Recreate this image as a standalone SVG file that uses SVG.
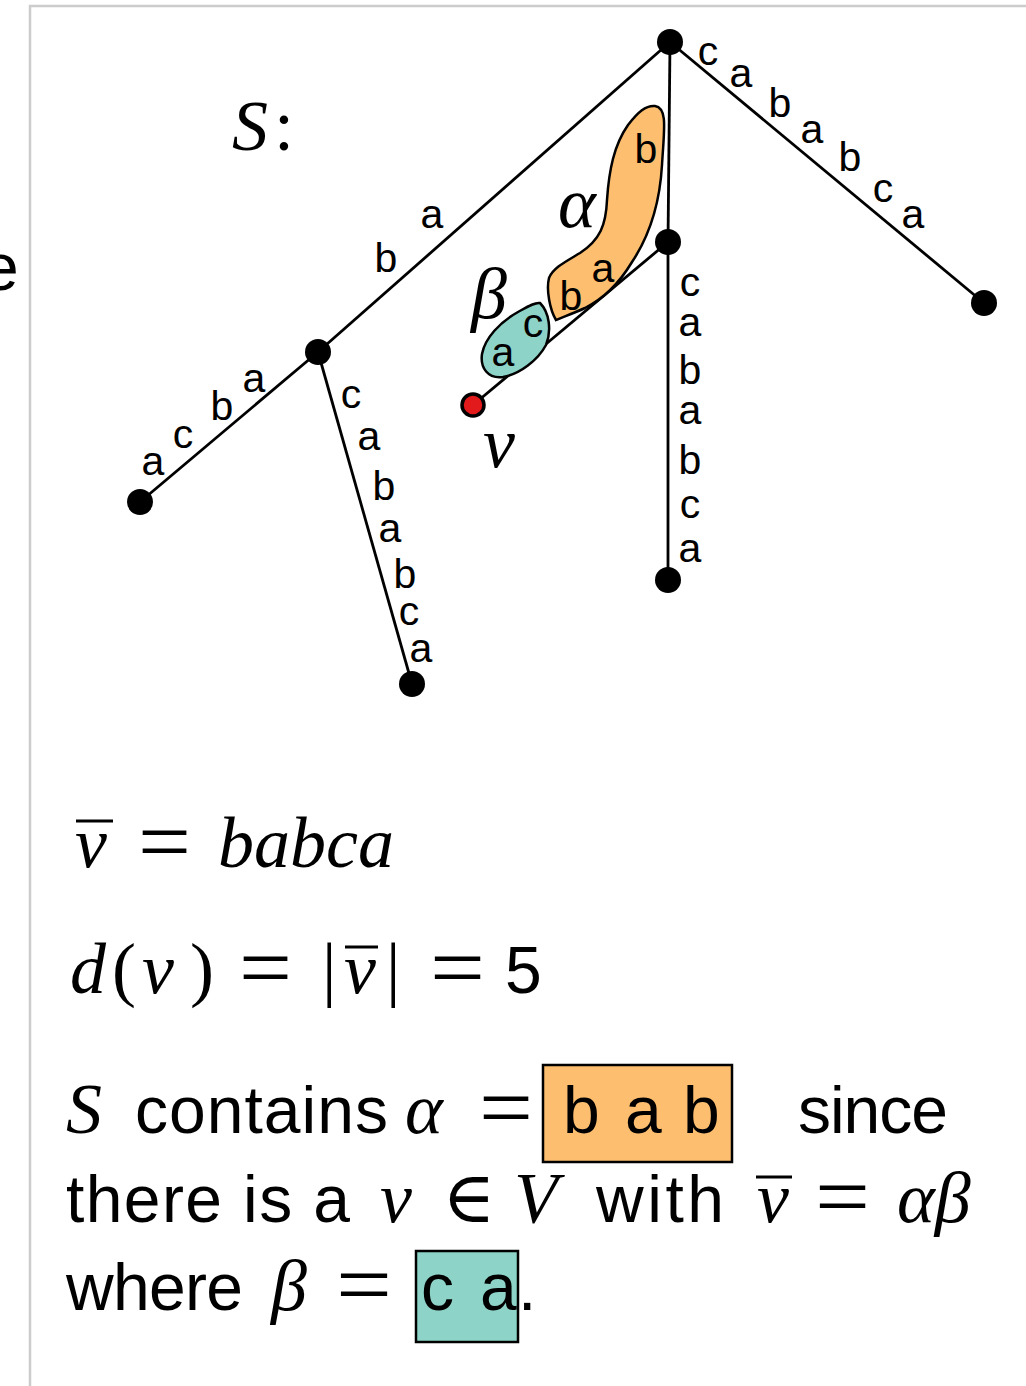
<svg xmlns="http://www.w3.org/2000/svg" width="1026" height="1386" viewBox="0 0 1026 1386">
<style>
.frame{fill:none;stroke:#cccccc;stroke-width:2.5}
.edge{stroke:#000;stroke-width:2.8;fill:none}
.node{fill:#000}
.lbl{font-family:"Liberation Sans",Arial,sans-serif;font-size:41px;fill:#000;text-anchor:middle}
.mi{font-family:"Liberation Serif","DejaVu Serif",serif;font-style:italic;font-size:72px;fill:#000}
.mo{font-family:"Liberation Serif","DejaVu Serif",serif;font-size:72px;fill:#000}
.eq{font-family:"Liberation Serif","DejaVu Serif",serif;font-size:88px;fill:#000}
.tx{font-family:"Liberation Sans",Arial,sans-serif;font-size:66px;fill:#000}
.bar{stroke:#000;stroke-width:3}
.blob{stroke:#000;stroke-width:2.5}
.box{stroke:#000;stroke-width:2.5}
</style>
<path class="frame" d="M30,1386 V6 H1026"/>
<text class="tx" x="-18" y="290">e</text>
<g id="title"><text class="mi" x="232" y="150">S</text><text class="mo" x="274" y="150">:</text></g>

<g id="connectors">
<line class="edge" x1="670" y1="42" x2="318" y2="352"/>
<line class="edge" x1="670" y1="42" x2="668" y2="242"/>
<line class="edge" x1="670" y1="42" x2="984" y2="303"/>
<line class="edge" x1="318" y1="352" x2="140" y2="502"/>
<line class="edge" x1="318" y1="352" x2="412" y2="684"/>
<line class="edge" x1="668" y1="242" x2="668" y2="580"/>
<line class="edge" x1="668" y1="242" x2="473" y2="405"/>
</g>

<g id="alpha-region">
<path class="blob" fill="#fdbf6f" d="M655,106 C668,108 664,130 662,165 C660,200 650,235 632,262 C620,282 605,298 585,308 C572,314 560,318 556,320 C550,310 546,290 549,278 C553,268 565,262 580,253 C600,240 606,225 607,200 C609,170 614,145 628,125 C638,112 646,105 655,106 Z"/>
<text class="mi" x="558" y="227">α</text>
</g>
<g id="beta-region">
<path class="blob" fill="#8dd3c7" d="M540,303 C549,312 552,330 546,345 C538,360 520,374 503,377 C488,379 480,368 482,354 C485,338 500,322 518,312 C527,307 535,302 540,303 Z"/>
<text class="mi" x="471" y="318">β</text>
</g>

<g id="edge-labels">
<text class="lbl" x="432" y="228">a</text>
<text class="lbl" x="386" y="272">b</text>

<text class="lbl" x="708" y="65">c</text>
<text class="lbl" x="741" y="87">a</text>
<text class="lbl" x="780" y="117">b</text>
<text class="lbl" x="812" y="143">a</text>
<text class="lbl" x="850" y="171">b</text>
<text class="lbl" x="883" y="202">c</text>
<text class="lbl" x="913" y="228">a</text>

<text class="lbl" x="646" y="163">b</text>
<text class="lbl" x="603" y="282">a</text>
<text class="lbl" x="571" y="310">b</text>
<text class="lbl" x="533" y="337">c</text>
<text class="lbl" x="503" y="366">a</text>

<text class="lbl" x="690" y="296">c</text>
<text class="lbl" x="690" y="336">a</text>
<text class="lbl" x="690" y="384">b</text>
<text class="lbl" x="690" y="424">a</text>
<text class="lbl" x="690" y="474">b</text>
<text class="lbl" x="690" y="518">c</text>
<text class="lbl" x="690" y="562">a</text>

<text class="lbl" x="153" y="475">a</text>
<text class="lbl" x="183" y="448">c</text>
<text class="lbl" x="222" y="420">b</text>
<text class="lbl" x="254" y="392">a</text>

<text class="lbl" x="351" y="408">c</text>
<text class="lbl" x="369" y="450">a</text>
<text class="lbl" x="384" y="500">b</text>
<text class="lbl" x="390" y="542">a</text>
<text class="lbl" x="405" y="588">b</text>
<text class="lbl" x="409" y="625">c</text>
<text class="lbl" x="421" y="662">a</text>
</g>

<g id="node-root"><circle class="node" cx="670" cy="42" r="13"/></g>
<g id="node-left"><circle class="node" cx="318" cy="352" r="13"/></g>
<g id="node-mid"><circle class="node" cx="668" cy="242" r="13"/></g>
<g id="leaf-right"><circle class="node" cx="984" cy="303" r="13"/></g>
<g id="leaf-left"><circle class="node" cx="140" cy="502" r="13"/></g>
<g id="leaf-down"><circle class="node" cx="412" cy="684" r="13"/></g>
<g id="leaf-mid"><circle class="node" cx="668" cy="580" r="13"/></g>
<g id="node-v"><circle cx="473" cy="405" r="11" fill="#e31a1c" stroke="#000" stroke-width="3.5"/><text class="mi" x="483" y="467" font-size="76">v</text></g>

<g id="line1">
<text class="mi" x="75" y="867">v</text><line class="bar" x1="76" y1="821" x2="113" y2="821"/>
<text class="eq" x="138" y="871" textLength="53" lengthAdjust="spacingAndGlyphs">=</text>
<text class="mi" x="218" y="867">babca</text>
</g>
<g id="line2">
<text class="mi" x="70" y="993">d</text>
<text class="mo" x="112" y="993">(</text>
<text class="mi" x="142" y="993">v</text>
<text class="mo" x="190" y="993">)</text>
<text class="eq" x="239" y="997" textLength="53" lengthAdjust="spacingAndGlyphs">=</text>
<text class="mo" x="322" y="993">|</text>
<text class="mi" x="344" y="993">v</text><line class="bar" x1="345" y1="947" x2="378" y2="947"/>
<text class="mo" x="386" y="993">|</text>
<text class="eq" x="430" y="997" textLength="55" lengthAdjust="spacingAndGlyphs">=</text>
<text class="tx" x="505" y="993">5</text>
</g>
<g id="line3">
<text class="mi" x="66" y="1133">S</text>
<text class="tx" x="135" y="1133" textLength="253">contains</text>
<text class="mi" x="405" y="1133">α</text>
<text class="eq" x="479" y="1137" textLength="54" lengthAdjust="spacingAndGlyphs">=</text>
<rect class="box" x="543" y="1065" width="189" height="97" fill="#fdbf6f"/>
<text class="tx" x="563" y="1133">b</text>
<text class="tx" x="625" y="1133">a</text>
<text class="tx" x="683" y="1133">b</text>
<text class="tx" x="798" y="1133" textLength="150">since</text>
</g>
<g id="line4">
<text class="tx" x="66" y="1222" textLength="284">there is a</text>
<text class="mi" x="380" y="1222">v</text>
<text class="mo" x="442" y="1222">∈</text>
<text class="mi" x="514" y="1222">V</text>
<text class="tx" x="596" y="1222" textLength="128">with</text>
<text class="mi" x="757" y="1222">v</text><line class="bar" x1="756" y1="1177" x2="792" y2="1177"/>
<text class="eq" x="815" y="1226" textLength="55" lengthAdjust="spacingAndGlyphs">=</text>
<text class="mi" x="897" y="1222">αβ</text>
</g>
<g id="line5">
<text class="tx" x="66" y="1310" textLength="177">where</text>
<text class="mi" x="271" y="1310">β</text>
<text class="eq" x="336" y="1314" textLength="56" lengthAdjust="spacingAndGlyphs">=</text>
<rect class="box" x="416" y="1251" width="102" height="91" fill="#8dd3c7"/>
<text class="tx" x="421" y="1310">c</text>
<text class="tx" x="480" y="1310">a</text>
<text class="tx" x="518" y="1310">.</text>
</g>
</svg>
